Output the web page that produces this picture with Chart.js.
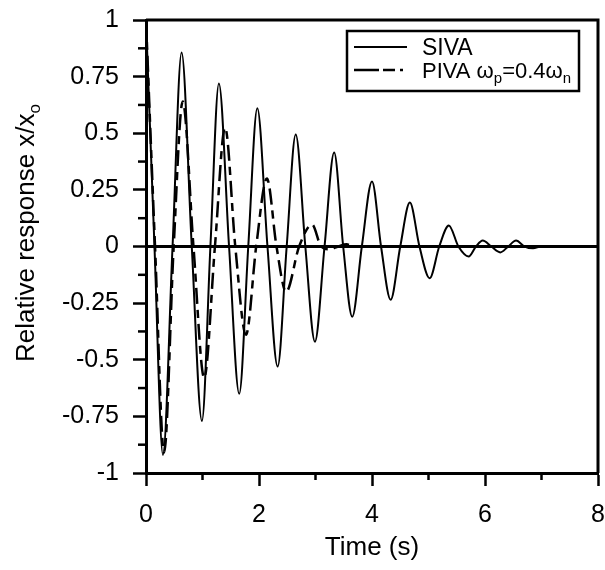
<!DOCTYPE html>
<html>
<head>
<meta charset="utf-8">
<script src="https://cdn.jsdelivr.net/npm/chart.js@4.4.0/dist/chart.umd.min.js"></script>
<style>
  body { margin: 0; background: #fff; }
</style>
</head>
<body>
<canvas id="myChart" width="605" height="570"></canvas>
<script>
// values: extrema and zero crossings
const sivaTime = [0, 0.15, 0.30, 0.47, 0.63, 0.81, 0.99, 1.14, 1.29, 1.47, 1.65, 1.81, 1.97, 2.15, 2.33, 2.49,
  2.65, 2.82, 2.99, 3.16, 3.33, 3.49, 3.65, 3.82, 4.00, 4.16, 4.33, 4.50, 4.67, 4.84, 5.02, 5.19, 5.36,
  5.53, 5.71, 5.84, 5.96, 6.11, 6.27, 6.41, 6.55, 6.70, 6.85, 7.00, 7.50];
const sivaValue = [1, 0, -0.92, 0, 0.857, 0, -0.77, 0, 0.72, 0, -0.65, 0, 0.61, 0, -0.53, 0,
  0.494, 0, -0.42, 0, 0.415, 0, -0.31, 0, 0.287, 0, -0.235, 0, 0.194, 0, -0.14, 0, 0.093,
  0, -0.044, 0, 0.026, 0, -0.026, 0, 0.026, 0, -0.008, 0, 0];

const pivaTime = [0, 0.16, 0.32, 0.49, 0.65, 0.84, 1.03, 1.22, 1.40, 1.58, 1.77, 1.95, 2.14, 2.31, 2.48,
  2.71, 2.94, 3.10, 3.25, 3.40, 3.55, 3.65];
const pivaValue = [1, 0, -0.91, 0, 0.64, 0, -0.58, 0, 0.525, 0, -0.39, 0, 0.30, 0, -0.20,
  0, 0.097, 0, -0.012, 0, 0.01, 0];

const xTicks = [0, 2, 4, 6, 8];
const yTicks = [-1, -0.75, -0.5, -0.25, 0, 0.25, 0.5, 0.75, 1];
const xMinor = [1, 3, 5, 7];
const yMinor = [-0.875, -0.625, -0.375, -0.125, 0.125, 0.375, 0.625, 0.875];

const FONT = '"Liberation Sans", Arial, sans-serif';

const toPts = (xs, ys) => xs.map((x, i) => ({x: x, y: ys[i]}));

const framePlugin = {
  id: 'frame',
  beforeDatasetsDraw(chart) {
    const {ctx, chartArea: a, scales: {y}} = chart;
    ctx.save();
    ctx.strokeStyle = '#000';
    ctx.lineWidth = 3;
    ctx.beginPath();
    ctx.moveTo(a.left, y.getPixelForValue(0));
    ctx.lineTo(a.right, y.getPixelForValue(0));
    ctx.stroke();
    ctx.restore();
  },
  afterDraw(chart) {
    const {ctx, chartArea: a, scales: {x, y}} = chart;
    ctx.save();
    ctx.strokeStyle = '#000';
    ctx.fillStyle = '#000';
    // top and right frame
    ctx.lineWidth = 3;
    ctx.beginPath();
    ctx.moveTo(a.left, a.top);
    ctx.lineTo(a.right, a.top);
    ctx.lineTo(a.right, a.bottom);
    ctx.stroke();
    // minor ticks
    ctx.lineWidth = 2.5;
    yMinor.forEach(v => {
      const py = y.getPixelForValue(v);
      ctx.beginPath();
      ctx.moveTo(a.left - 8, py);
      ctx.lineTo(a.left, py);
      ctx.stroke();
    });
    xMinor.forEach(v => {
      const px = x.getPixelForValue(v);
      ctx.beginPath();
      ctx.moveTo(px, a.bottom);
      ctx.lineTo(px, a.bottom + 7);
      ctx.stroke();
    });

    // x title
    ctx.font = '26px ' + FONT;
    ctx.textAlign = 'center';
    ctx.textBaseline = 'alphabetic';
    ctx.fillText('Time (s)', (a.left + a.right) / 2, 555);

    // y title with subscript
    ctx.save();
    ctx.translate(34, 233);
    ctx.rotate(-Math.PI / 2);
    const main = 'Relative response x/x';
    ctx.font = '26px ' + FONT;
    const w1 = ctx.measureText(main).width;
    ctx.font = '17px ' + FONT;
    const w2 = ctx.measureText('o').width;
    const x0 = -(w1 + w2) / 2;
    ctx.textAlign = 'left';
    ctx.font = '26px ' + FONT;
    ctx.fillText(main, x0, 0);
    ctx.font = '17px ' + FONT;
    ctx.fillText('o', x0 + w1, 6);
    ctx.restore();

    // legend box
    ctx.lineWidth = 2.5;
    ctx.strokeRect(347, 31, 232, 60);
    ctx.lineWidth = 2;
    ctx.beginPath();
    ctx.moveTo(354, 47);
    ctx.lineTo(407, 47);
    ctx.stroke();
    ctx.save();
    ctx.lineWidth = 2.5;
    ctx.setLineDash([25, 4, 12, 5, 3, 5]);
    ctx.beginPath();
    ctx.moveTo(354, 70);
    ctx.lineTo(405, 70);
    ctx.stroke();
    ctx.restore();

    ctx.textAlign = 'left';
    ctx.font = '23px ' + FONT;
    ctx.fillText('SIVA', 422, 55);
    let tx = 422;
    const seg = (t, size, dy) => {
      ctx.font = size + 'px ' + FONT;
      ctx.fillText(t, tx, 78 + dy);
      tx += ctx.measureText(t).width;
    };
    seg('PIVA ', 22, 0);
    seg('\u03c9', 22, 0);
    seg('p', 15, 5);
    seg('=0.4', 22, 0);
    seg('\u03c9', 22, 0);
    seg('n', 15, 5);
    ctx.restore();
  }
};

const myCtx = document.getElementById('myChart').getContext('2d');
const myChart = new Chart(myCtx, {
  type: 'line',
  data: {
    datasets: [{
      label: 'SIVA',
      data: toPts(sivaTime, sivaValue),
      borderColor: '#000',
      borderWidth: 2,
      pointRadius: 0,
      cubicInterpolationMode: 'monotone'
    }, {
      label: 'PIVA',
      data: toPts(pivaTime, pivaValue),
      borderColor: '#000',
      borderWidth: 2.5,
      borderDash: [16, 6, 8, 6],
      pointRadius: 0,
      cubicInterpolationMode: 'monotone'
    }]
  },
  options: {
    responsive: false,
    animation: false,
    layout: {padding: {top: 20, right: 7, left: 0, bottom: 0}},
    plugins: {
      legend: {display: false},
      tooltip: {enabled: false}
    },
    scales: {
      x: {
        type: 'linear',
        min: 0, max: 8,
        afterFit: s => { s.height = 97; s.paddingLeft = 0; s.paddingRight = 0; },
        afterBuildTicks: s => { s.ticks = xTicks.map(v => ({value: v})); },
        ticks: {color: '#000', font: {family: FONT, size: 25}, padding: 14},
        grid: {drawOnChartArea: false, tickLength: 13, tickWidth: 2.5, color: '#000'},
        border: {display: true, width: 3, color: '#000'}
      },
      y: {
        type: 'linear',
        min: -1, max: 1,
        afterFit: s => { s.width = 146; s.paddingTop = 0; s.paddingBottom = 0; },
        afterBuildTicks: s => { s.ticks = yTicks.map(v => ({value: v})); },
        ticks: {color: '#000', font: {family: FONT, size: 25}, padding: 14,
          callback: v => String(v)},
        grid: {drawOnChartArea: false, tickLength: 13, tickWidth: 2.5, color: '#000'},
        border: {display: true, width: 3, color: '#000'}
      }
    }
  },
  plugins: [framePlugin]
});
</script>
</body>
</html>
